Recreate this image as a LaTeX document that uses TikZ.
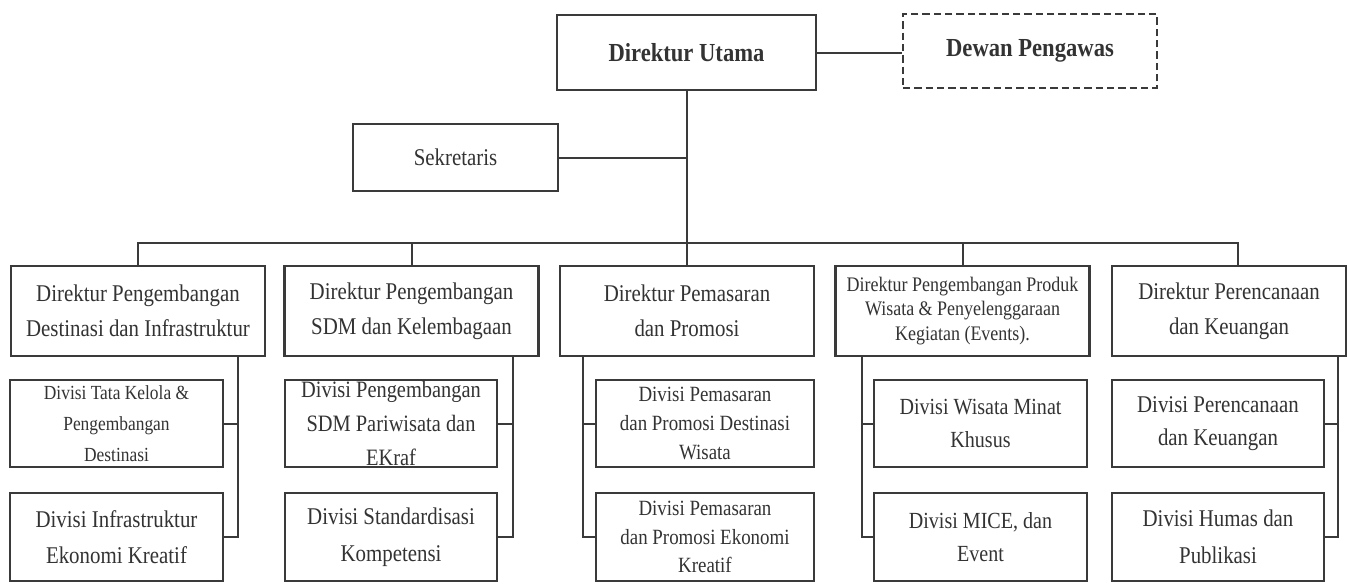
\documentclass[tikz,border=0pt]{standalone}
\usepackage{fontspec}
\setmainfont{Liberation Serif}[FakeStretch=0.87]
\definecolor{lc}{HTML}{3A3A3A}
\definecolor{tc}{HTML}{333333}
\newcommand{\pxu}{0.75pt}
\tikzset{
  box/.style={draw=lc, line width=1.7pt, inner xsep=2pt, inner ysep=-8pt, align=center, text=tc},
  dashbox/.style={box, dash pattern=on 5.5pt off 3pt},
  conn/.style={draw=lc, line width=1.5pt},
  dir/.style={box, minimum width=254*\pxu, minimum height=90*\pxu, font=\fontsize{18}{26}\selectfont},
  div/.style={box, minimum width=213*\pxu, minimum height=87*\pxu},
  fA/.style={font=\fontsize{15}{23}\selectfont},
  fB/.style={font=\fontsize{18}{27.5}\selectfont},
  fC/.style={font=\fontsize{16.3}{21.5}\selectfont},
  fD/.style={font=\fontsize{17.3}{25}\selectfont},
}
\begin{document}
\begin{tikzpicture}[x=0.75pt,y=-0.75pt]
\useasboundingbox[fill=white] (0,0) rectangle (1348,583);
% top
\node[box, minimum width=259*\pxu, minimum height=75*\pxu, font=\fontsize{19.5}{24}\selectfont\bfseries] (du) at (686.5,52.5) {Direktur Utama};
\node[dashbox, minimum width=254*\pxu, minimum height=74*\pxu, font=\fontsize{19.5}{24}\selectfont\bfseries] (dw) at (1030,51) {Dewan Pengawas};
\node[box, minimum width=205*\pxu, minimum height=67*\pxu, font=\fontsize{18}{24}\selectfont] (sek) at (455.5,157.5) {Sekretaris};
% directors
\node[dir] (d1) at (138,311) {Direktur Pengembangan\\Destinasi dan Infrastruktur};
\node[dir] (d2) at (411.5,311) {Direktur Pengembangan\\SDM dan Kelembagaan};
\node[dir] (d3) at (687,311) {Direktur Pemasaran\\dan Promosi};
\node[dir, font=\fontsize{15.5}{18.4}\selectfont] (d4) at (962.5,311) {Direktur Pengembangan Produk\\Wisata \& Penyelenggaraan\\Kegiatan (Events).};
\node[dir, minimum width=234*\pxu] (d5) at (1229,311) {Direktur Perencanaan\\dan Keuangan};
% divisions
\node[div, fA] (v1a) at (116.5,423.5) {Divisi Tata Kelola \&\\Pengembangan\\Destinasi};
\node[div, fB, minimum height=88*\pxu] (v1b) at (116.5,537) {Divisi Infrastruktur\\Ekonomi Kreatif};
\node[div, font=\fontsize{17.6}{25.5}\selectfont, minimum width=212*\pxu] (v2a) at (391,423.5) {Divisi Pengembangan\\SDM Pariwisata dan\\EKraf};
\node[div, fB, minimum width=212*\pxu, minimum height=88*\pxu] (v2b) at (391,537) {Divisi Standardisasi\\Kompetensi};
\node[div, fC, minimum width=218*\pxu] (v3a) at (705,423.5) {Divisi Pemasaran\\dan Promosi Destinasi\\Wisata};
\node[div, fC, minimum width=218*\pxu, minimum height=88*\pxu] (v3b) at (705,537) {Divisi Pemasaran\\dan Promosi Ekonomi\\Kreatif};
\node[div, fD] (v4a) at (980.5,423.5) {Divisi Wisata Minat\\Khusus};
\node[div, fD, minimum height=88*\pxu] (v4b) at (980.5,537) {Divisi MICE, dan\\Event};
\node[div, font=\fontsize{18}{25}\selectfont, minimum width=212*\pxu] (v5a) at (1218,423.5) {Divisi Perencanaan\\dan Keuangan};
\node[div, fB, minimum width=212*\pxu, minimum height=88*\pxu] (v5b) at (1218,537) {Divisi Humas dan\\Publikasi};
% connectors top
\draw[conn] (du.east) -- (du.east -| dw.west);
\draw[conn] (du.south) -- (du.south |- d3.north);
\draw[conn] (sek.east) -- (sek.east -| du.south);
\coordinate (busy) at (0,243);
\coordinate (t5) at (1238,243);
\draw[conn] (d1.north) -- (d1.north |- busy) -- (t5) -- (t5 |- d5.north);
\draw[conn] (d2.north) -- (d2.north |- busy);
\draw[conn] (d4.north) -- (d4.north |- busy);
% spines
\coordinate (s1) at (238,0);
\coordinate (s2) at (513,0);
\coordinate (s3) at (583,0);
\coordinate (s4) at (862,0);
\coordinate (s5) at (1338,0);
\draw[conn] (d1.south -| s1) |- (v1b.east);
\draw[conn] (v1a.east) -- (v1a.east -| s1);
\draw[conn] (d2.south -| s2) |- (v2b.east);
\draw[conn] (v2a.east) -- (v2a.east -| s2);
\draw[conn] (d3.south -| s3) |- (v3b.west);
\draw[conn] (v3a.west) -- (v3a.west -| s3);
\draw[conn] (d4.south -| s4) |- (v4b.west);
\draw[conn] (v4a.west) -- (v4a.west -| s4);
\draw[conn] (d5.south -| s5) |- (v5b.east);
\draw[conn] (v5a.east) -- (v5a.east -| s5);
\end{tikzpicture}
\end{document}
